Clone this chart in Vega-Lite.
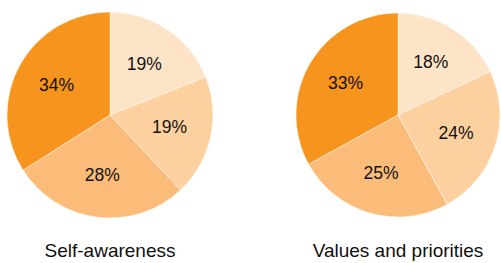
{
  "$schema": "https://vega.github.io/schema/vega-lite/v6.json",
  "padding": 0,
  "background": "white",
  "config": {"view": {"stroke": null}, "font": "Liberation Sans"},
  "data": {"values": [
    {"chart": "Self-awareness", "order": 1, "value": 19, "label": "19%"},
    {"chart": "Self-awareness", "order": 2, "value": 19, "label": "19%"},
    {"chart": "Self-awareness", "order": 3, "value": 28, "label": "28%"},
    {"chart": "Self-awareness", "order": 4, "value": 34, "label": "34%"},
    {"chart": "Values and priorities", "order": 1, "value": 18, "label": "18%"},
    {"chart": "Values and priorities", "order": 2, "value": 24, "label": "24%"},
    {"chart": "Values and priorities", "order": 3, "value": 25, "label": "25%"},
    {"chart": "Values and priorities", "order": 4, "value": 33, "label": "33%"}
  ]},
  "spacing": 75,
  "hconcat": [
    {
      "width": 220,
      "height": 230,
      "title": {"text": "Self-awareness", "orient": "bottom", "anchor": "middle", "fontSize": 19, "fontWeight": "normal", "color": "#111", "offset": 12, "font": "Liberation Sans"},
      "transform": [{"filter": "datum.chart === 'Self-awareness'"}],
      "encoding": {
        "theta": {"field": "value", "type": "quantitative", "stack": true},
        "order": {"field": "order", "type": "quantitative"}
      },
      "layer": [
        {
          "mark": {"type": "arc", "outerRadius": 103, "stroke": "white", "strokeWidth": 0.5},
          "encoding": {
            "color": {"field": "order", "type": "ordinal", "legend": null,
              "scale": {"domain": [1, 2, 3, 4], "range": ["#FEE4C7", "#FDD19F", "#FBBC7A", "#F7941E"]}}
          }
        },
        {
          "mark": {"type": "text", "radius": 61, "fontSize": 17.5, "color": "#111", "baseline": "middle", "align": "center"},
          "encoding": {"text": {"field": "label"}}
        }
      ]
    },
    {
      "width": 206,
      "height": 230,
      "title": {"text": "Values and priorities", "orient": "bottom", "anchor": "middle", "fontSize": 19, "fontWeight": "normal", "color": "#111", "offset": 12, "font": "Liberation Sans"},
      "transform": [{"filter": "datum.chart === 'Values and priorities'"}],
      "encoding": {
        "theta": {"field": "value", "type": "quantitative", "stack": true},
        "order": {"field": "order", "type": "quantitative"}
      },
      "layer": [
        {
          "mark": {"type": "arc", "outerRadius": 102, "stroke": "white", "strokeWidth": 0.5},
          "encoding": {
            "color": {"field": "order", "type": "ordinal", "legend": null,
              "scale": {"domain": [1, 2, 3, 4], "range": ["#FEE4C7", "#FDD19F", "#FBBC7A", "#F7941E"]}}
          }
        },
        {
          "mark": {"type": "text", "radius": 61, "fontSize": 17.5, "color": "#111", "baseline": "middle", "align": "center"},
          "encoding": {"text": {"field": "label"}}
        }
      ]
    }
  ]
}
